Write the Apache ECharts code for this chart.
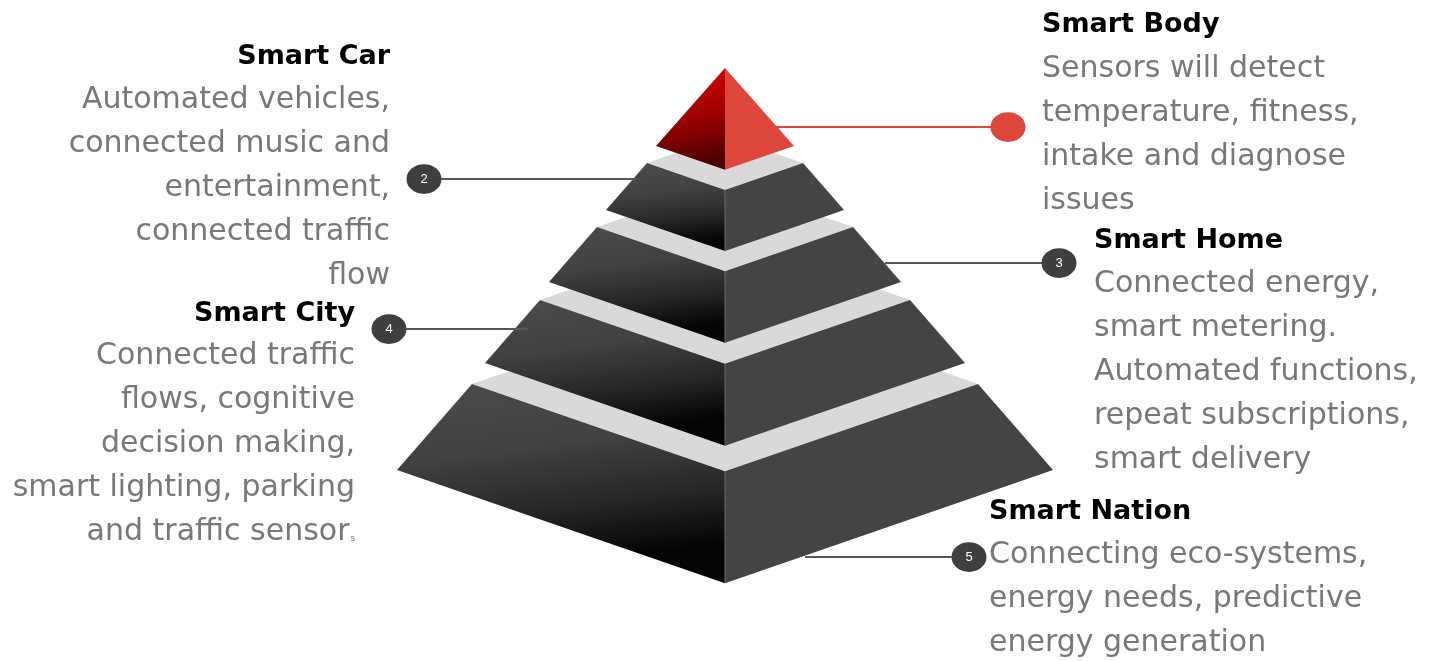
<!DOCTYPE html>
<html><head><meta charset="utf-8">
<script src="https://cdn.jsdelivr.net/npm/echarts@6/dist/echarts.min.js"></script>
<style>html,body{margin:0;padding:0;background:#fff}#c{width:1435px;height:661px}</style>
</head><body><div id="c"></div>
<script>
// Tiers listed bottom -> top
const tierNumbers = [5, 4, 3, 2, 1];
const tierTitles = ['Smart Nation', 'Smart City', 'Smart Home', 'Smart Car', 'Smart Body'];
const tierTopY = [384, 300, 227, 163, 68];
const tierTopHalfWidth = [253, 185, 128, 78, 0];
const tierBottomY = [470, 363, 282, 210, 146];
const tierBottomHalfWidth = [328, 240, 176, 119, 69];
const connectorY = [557, 329, 263, 179, 127];
const connectorFromX = [805, 528, 885, 636, 776];
const connectorToX = [969, 389, 1059, 424, 1008];

const descNation = ['Connecting eco-systems,', 'energy needs, predictive', 'energy generation'];
const descCity = ['Connected traffic', 'flows, cognitive', 'decision making,', 'smart lighting, parking', 'and traffic sensor{s|s}'];
const descHome = ['Connected energy,', 'smart metering.', 'Automated functions,', 'repeat subscriptions,', 'smart delivery'];
const descCar = ['Automated vehicles,', 'connected music and', 'entertainment,', 'connected traffic', 'flow'];
const descBody = ['Sensors will detect', 'temperature, fitness,', 'intake and diagnose', 'issues'];
const tierDescs = [descNation, descCity, descHome, descCar, descBody];

// text layout: [titleX, titleY, align, descTop]
const textLayout = [
  [989, 512, 'left', 533],
  [355, 314, 'right', 334],
  [1094, 241, 'left', 262],
  [390, 57, 'right', 78],
  [1042, 25, 'left', 47]
];

const CX = 725, DEPTH = 0.345;
const chart = echarts.init(document.getElementById('c'), null, {renderer: 'canvas'});

function renderItem(params, api) {
  const i = api.value(0);
  const c = (x, y) => api.coord([x, y]);
  const tw = tierTopHalfWidth[i], ty = tierTopY[i];
  const bw = tierBottomHalfWidth[i], by = tierBottomY[i];
  const isTop = tw === 0;
  const children = [];
  const botL = c(CX - bw, by), botF = c(CX, by + bw * DEPTH), botR = c(CX + bw, by);
  if (isTop) {
    const apex = c(CX, ty);
    children.push({type: 'polygon', shape: {points: [apex, botL, botF]},
      style: {fill: new echarts.graphic.LinearGradient(0.1, 0, 0.4, 1, [
        {offset: 0, color: '#e00000'}, {offset: 0.55, color: '#990000'}, {offset: 1, color: '#480000'}])}});
    children.push({type: 'polygon', shape: {points: [apex, botF, botR]}, style: {fill: '#dd463a'}});
  } else {
    const topL = c(CX - tw, ty), topF = c(CX, ty + tw * DEPTH), topR = c(CX + tw, ty), topB = c(CX, ty - tw * DEPTH);
    children.push({type: 'polygon', shape: {points: [topL, topF, topR, topB]}, style: {fill: '#d9d9d9'}});
    children.push({type: 'polygon', shape: {points: [topL, topF, botF, botL]},
      style: {fill: new echarts.graphic.LinearGradient(0, 0, 0.08, 1, [
        {offset: 0, color: '#4b4b4b'}, {offset: 0.4, color: '#414141'}, {offset: 0.72, color: '#262626'}, {offset: 1, color: '#040404'}])}});
    children.push({type: 'polygon', shape: {points: [topF, topR, botR, botF]}, style: {fill: '#444444'}});
    children.push({type: 'line', shape: {x1: topF[0], y1: topF[1], x2: botF[0], y2: botF[1]},
      style: {stroke: '#6a6a6a', lineWidth: 1}});
  }
  // connector
  const p1 = c(connectorFromX[i], connectorY[i]), p2 = c(connectorToX[i], connectorY[i]);
  const col = isTop ? '#dd463a' : '#585858';
  children.push({type: 'line', shape: {x1: p1[0], y1: p1[1], x2: p2[0], y2: p2[1]},
    style: {stroke: col, lineWidth: 2}});
  children.push({type: 'circle', x: p2[0], y: p2[1], scaleY: 0.85, shape: {cx: 0, cy: 0, r: 17.5},
    style: {fill: isTop ? '#dd463a' : '#3f3f3f'}});
  if (!isTop) {
    children.push({type: 'text', x: p2[0], y: p2[1],
      style: {text: String(tierNumbers[i]), fill: '#ffffff', font: '13px "Liberation Sans", Arial, sans-serif',
        align: 'center', verticalAlign: 'middle'}});
  }
  return {type: 'group', children};
}

const graphics = [];
tierTitles.forEach((t, i) => {
  const [x, y, align, top] = textLayout[i];
  graphics.push({type: 'text', x, y, style: {text: t, fill: '#000', font: 'bold 27px "DejaVu Sans", sans-serif',
    align, verticalAlign: 'middle'}});
  graphics.push({type: 'text', x, y: top, style: {text: tierDescs[i].join('\n'), fill: '#787878',
    font: '30px "DejaVu Sans", sans-serif', lineHeight: 44, align, verticalAlign: 'top',
    rich: {s: {fontSize: 9, fill: '#787878', verticalAlign: 'middle', padding: [14, 0, 0, 1]}}}});
});

chart.setOption({
  animation: false,
  grid: {left: 0, right: 0, top: 0, bottom: 0},
  xAxis: {type: 'value', min: 0, max: 1435, show: false},
  yAxis: {type: 'value', min: 0, max: 661, inverse: true, show: false},
  series: [{type: 'custom', coordinateSystem: 'cartesian2d', renderItem,
    data: tierNumbers.map((n, i) => [i])}],
  graphic: graphics
});
</script></body></html>
